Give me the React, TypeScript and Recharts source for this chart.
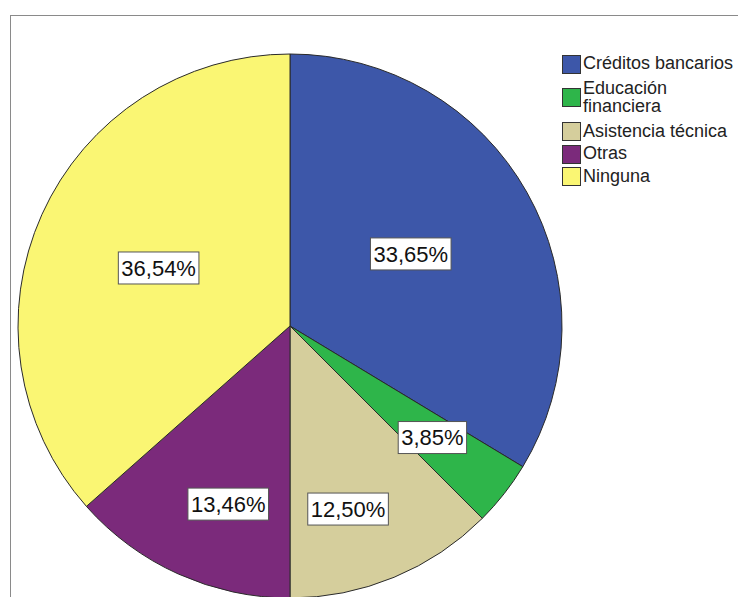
import React from 'react';
import { PieChart, Pie, Cell } from 'recharts';

const categories = ['Créditos bancarios', 'Educación financiera', 'Asistencia técnica', 'Otras', 'Ninguna'];
const percentages = [33.65, 3.85, 12.5, 13.46, 36.54];
const colors = ['#3D57A9', '#2EB54A', '#D5CE9C', '#7B2A7B', '#FAF673'];

// label placement tweaks (radius fraction, angle offset in degrees, clockwise)
const labelRadius = [0.517, 0.665, 0.706, 0.693, 0.528];
const labelAngleShift = [-1.4, 0, 4.9, -5.1, -0.4];

const data = categories.map((name, i) => ({ name, value: percentages[i] }));

const FONT = 'Arial, "Liberation Sans", sans-serif';
const LABEL_SIZE = 22;

const charW = (ch: string) => {
  if (ch >= '0' && ch <= '9') return 0.556;
  if (ch === ',') return 0.278;
  if (ch === '%') return 0.889;
  return 0.556;
};

const fmt = (v: number) => v.toFixed(2).replace('.', ',') + '%';

const renderLabel = (props: any) => {
  const { cx, cy, midAngle, outerRadius, index, value } = props;
  const a = ((90 - midAngle + labelAngleShift[index]) * Math.PI) / 180;
  const r = outerRadius * labelRadius[index];
  const x = cx + r * Math.sin(a);
  const y = cy - r * Math.cos(a);
  const text = fmt(value);
  const tw = text.split('').reduce((s, c) => s + charW(c), 0) * LABEL_SIZE;
  const w = tw + 6;
  const h = 32;
  return (
    <g key={`lbl-${index}`}>
      <rect x={x - w / 2} y={y - h / 2} width={w} height={h} fill="#ffffff" stroke="#555555" strokeWidth={1} />
      <text
        x={x}
        y={y + LABEL_SIZE * 0.36}
        textAnchor="middle"
        fontFamily={FONT}
        fontSize={LABEL_SIZE}
        fill="#111111"
      >
        {text}
      </text>
    </g>
  );
};

const rowHeights = [22.5, 45, 22.5, 22.5, 22.5];

export default function App() {
  return (
    <div
      style={{
        position: 'absolute',
        left: 0,
        top: 0,
        width: 738,
        height: 597,
        overflow: 'hidden',
        background: '#ffffff',
        fontFamily: FONT,
      }}
    >
      <div
        style={{
          position: 'absolute',
          left: 10,
          top: 15,
          width: 740,
          height: 600,
          borderTop: '1px solid #8a8a8a',
          borderLeft: '1px solid #8a8a8a',
        }}
      />
      <div style={{ position: 'absolute', left: 0, top: 0 }}>
        <PieChart width={738} height={597} margin={{ top: 0, right: 0, bottom: 0, left: 0 }}>
          <Pie
            data={data}
            dataKey="value"
            nameKey="name"
            cx={290}
            cy={326}
            outerRadius={272}
            startAngle={90}
            endAngle={-270}
            stroke="#2a2a2a"
            strokeWidth={1}
            label={renderLabel}
            labelLine={false}
            isAnimationActive={false}
          >
            {data.map((d, i) => (
              <Cell key={d.name} fill={colors[i]} />
            ))}
          </Pie>
        </PieChart>
      </div>
      <div style={{ position: 'absolute', left: 562, top: 52.75 }}>
        {categories.map((c, i) => (
          <div
            key={c}
            style={{
              display: 'flex',
              alignItems: 'center',
              height: rowHeights[i],
            }}
          >
            <div
              style={{
                width: 17,
                height: 17,
                background: colors[i],
                border: '1px solid #333333',
                flexShrink: 0,
              }}
            />
            <div
              style={{
                marginLeft: 2,
                width: 162,
                fontSize: 18,
                lineHeight: '17.3px',
                color: '#222222',
              }}
            >
              {c}
            </div>
          </div>
        ))}
      </div>
    </div>
  );
}
